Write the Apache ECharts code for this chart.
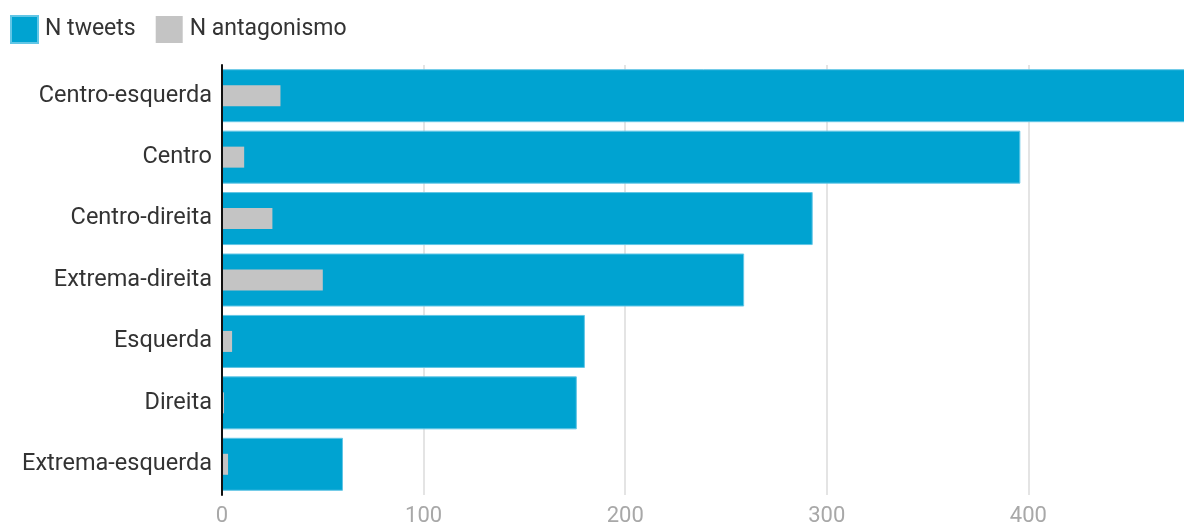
<!DOCTYPE html>
<html>
<head>
<meta charset="utf-8">
<script src="https://cdn.jsdelivr.net/npm/echarts@6/dist/echarts.min.js"></script>
<style>
  html, body { margin: 0; padding: 0; background: #ffffff; }
  #chart { width: 1184px; height: 524px; }
</style>
</head>
<body>
<div id="chart"></div>
<script>
// Political leaning categories, top to bottom
const categories = ['Centro-esquerda', 'Centro', 'Centro-direita', 'Extrema-direita', 'Esquerda', 'Direita', 'Extrema-esquerda'];
// Number of tweets per category
const tweets = [485, 396, 293, 259, 180, 176, 60];
// Number of antagonistic tweets per category
const antagonismo = [29, 11, 25, 50, 5, 1, 3];
// X axis tick values
const xTicks = [0, 100, 200, 300, 400];

const chart = echarts.init(document.getElementById('chart'));
chart.setOption({
  animation: false,
  textStyle: { fontFamily: 'Roboto' },
  legend: {
    left: 5,
    top: 10,
    itemWidth: 27,
    itemHeight: 27,
    itemGap: 20,
    icon: 'rect',
    textStyle: { fontSize: 23, color: '#333333', fontFamily: 'Roboto', padding: [0, 0, 0, 2] },
    data: ['N tweets', 'N antagonismo']
  },
  // the plot runs past the right edge of the page, so the widest bar is cut off
  grid: { left: 222, top: 65, width: 1008, height: 430, outerBoundsMode: 'none' },
  xAxis: {
    type: 'value',
    min: 0,
    max: 500,
    interval: 100,
    axisLine: { show: false },
    axisTick: { show: false },
    splitLine: { show: true, lineStyle: { color: '#e4e4e4', width: 2 } },
    axisLabel: {
      fontSize: 22,
      color: '#a8a8a8',
      margin: 10,
      formatter: v => (xTicks.indexOf(v) >= 0 ? String(v) : '')
    }
  },
  yAxis: [
    {
      type: 'category',
      inverse: true,
      data: categories,
      axisLine: { show: true, lineStyle: { color: '#111111', width: 2 } },
      axisTick: { show: false },
      axisLabel: { fontSize: 23.5, color: '#333333', margin: 10 },
      z: 5
    },
    {
      // second category axis so the narrow bars sit centred inside the wide ones
      type: 'category',
      inverse: true,
      data: categories,
      position: 'left',
      show: false
    }
  ],
  series: [
    {
      name: 'N tweets',
      type: 'bar',
      yAxisIndex: 0,
      data: tweets,
      barWidth: 53,
      itemStyle: { color: '#00a3d1', borderColor: '#62c6e6', borderWidth: 1 },
      z: 2
    },
    {
      name: 'N antagonismo',
      type: 'bar',
      yAxisIndex: 1,
      data: antagonismo,
      barWidth: 21,
      itemStyle: { color: '#c4c4c4' },
      z: 3
    }
  ]
});
</script>
</body>
</html>
